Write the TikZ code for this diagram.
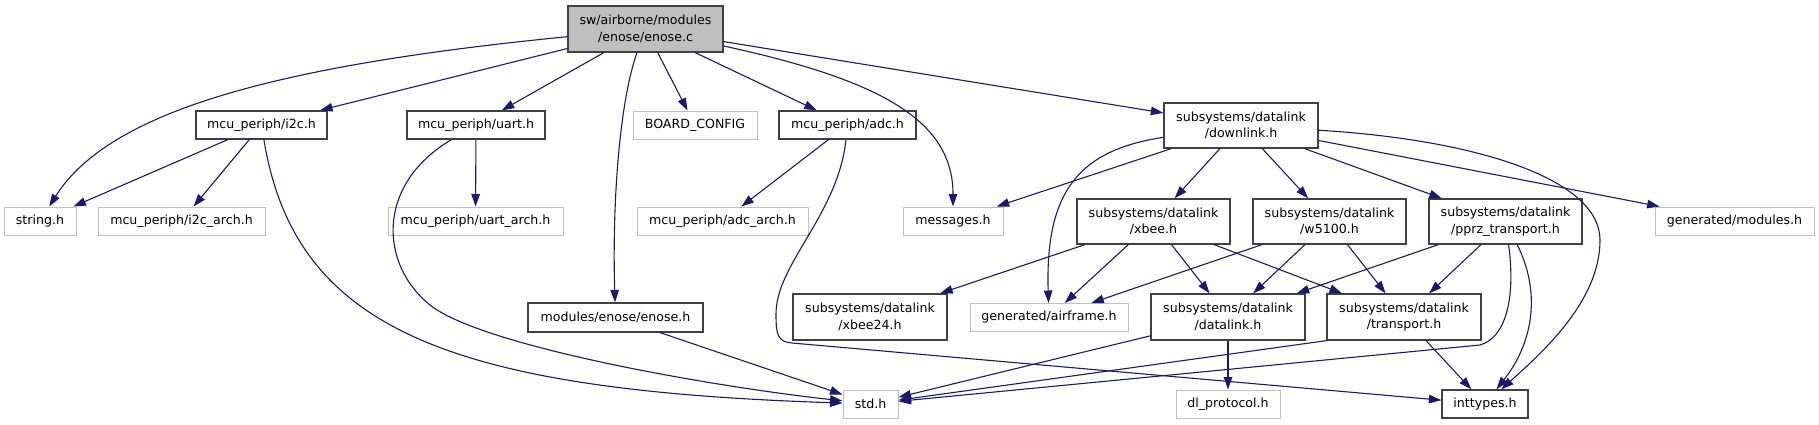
\documentclass[tikz,border=0pt]{standalone}
\usepackage{fontspec}
\newfontfamily\dxfont{DejaVu Sans}
\usetikzlibrary{arrows.meta}
\usepackage{xcolor}
\definecolor{dxnavy}{RGB}{25,25,112}
\definecolor{dxedge}{RGB}{64,64,64}
\definecolor{dxgrey}{RGB}{191,191,191}
\tikzset{
    hfile/.style={
        draw=dxedge,line width=1.3pt,fill=white,inner sep=0pt,
        align=center,minimum height=#1,
        font=\dxfont\fontsize{12.6pt}{16.5pt}\selectfont
    },
    hfile/.default=28pt,
    xfile/.style={
        hfile=28pt,draw=dxgrey,line width=1pt
    },
    srcfile/.style={
        hfile=46pt,fill=dxgrey
    },
    inc/.style={
        -{Triangle[length=12.5pt,width=8.5pt]},line width=1.1pt,color=dxnavy
    }
}

\begin{document}
\begin{tikzpicture}[x=1pt,y=-1pt]
\useasboundingbox (0,0) rectangle (1819,424);

% files
\node[srcfile,minimum width=155pt] (enosec) at (645.5,29) {sw/airborne/modules\\/enose/enose.c};
\node[hfile,minimum width=131pt] (i2c) at (261.5,125) {mcu\_periph/i2c.h};
\node[hfile,minimum width=138pt] (uart) at (476,125) {mcu\_periph/uart.h};
\node[xfile,minimum width=124pt] (board) at (695,125) {BOARD\_CONFIG};
\node[hfile,minimum width=137pt] (adc) at (847.5,125) {mcu\_periph/adc.h};
\node[hfile=45pt,minimum width=154pt] (downlink) at (1241,125.5) {subsystems/datalink\\/downlink.h};
\node[xfile,minimum width=72pt] (string) at (40,221) {string.h};
\node[xfile,minimum width=167pt] (i2carch) at (181.5,221) {mcu\_periph/i2c\_arch.h};
\node[xfile,minimum width=175pt] (uartarch) at (475.5,221) {mcu\_periph/uart\_arch.h};
\node[xfile,minimum width=171pt] (adcarch) at (722.5,221) {mcu\_periph/adc\_arch.h};
\node[xfile,minimum width=100pt] (messages) at (953,221) {messages.h};
\node[hfile=45pt,minimum width=153pt] (xbee) at (1153.5,221.5) {subsystems/datalink\\/xbee.h};
\node[hfile=45pt,minimum width=153pt] (w5100) at (1329.5,221.5) {subsystems/datalink\\/w5100.h};
\node[hfile=45pt,minimum width=153pt] (pprz) at (1505.5,221.5) {subsystems/datalink\\/pprz\_transport.h};
\node[xfile,minimum width=159pt] (modules) at (1734.5,221) {generated/modules.h};
\node[hfile=29pt,minimum width=175pt] (enoseh) at (615.5,317.5) {modules/enose/enose.h};
\node[hfile=46pt,minimum width=154pt] (xbee24) at (870,317) {subsystems/datalink\\/xbee24.h};
\node[xfile,minimum width=158pt] (airframe) at (1049,317.5) {generated/airframe.h};
\node[hfile=46pt,minimum width=154pt] (datalink) at (1228,317) {subsystems/datalink\\/datalink.h};
\node[hfile=46pt,minimum width=154pt] (transport) at (1404,317) {subsystems/datalink\\/transport.h};
\node[xfile,minimum width=55pt] (std) at (870.5,404) {std.h};
\node[xfile,minimum width=104pt] (dlproto) at (1228,404) {dl\_protocol.h};
\node[hfile,minimum width=86pt] (inttypes) at (1485,404) {inttypes.h};

% includes of enose.c
\draw[inc] (enosec) .. controls (280,65) and (110,110) .. (string);
\draw[inc] (enosec) -- (i2c);
\draw[inc] (enosec) -- (uart);
\draw[inc] (enosec) .. controls (620,100) and (612,200) .. (enoseh);
\draw[inc] (enosec) -- (board);
\draw[inc] (enosec) -- (adc);
\draw[inc] (enosec) .. controls (880,80) and (953,120) .. (messages);
\draw[inc] (enosec) -- (downlink);

% mcu_periph
\draw[inc] (i2c) -- (string);
\draw[inc] (i2c) -- (i2carch);
\draw[inc] (i2c) .. controls (295,330) and (450,390) .. (std);
\draw[inc] (uart) -- (uartarch);
\draw[inc] (uart) .. controls (375,185) and (380,265) .. (430,305)
    .. controls (480,345) and (700,385) .. (std);
\draw[inc] (adc) -- (adcarch);
\draw[inc] (adc) .. controls (838,215) and (775,265) .. (776,315)
    .. controls (776,335) and (778,342) .. (792,343) -- (inttypes);
\draw[inc] (enoseh) -- (std);

% downlink
\draw[inc] (downlink) -- (messages);
\draw[inc] (downlink) .. controls (1080,150) and (1045,190) .. (airframe);
\draw[inc] (downlink) -- (xbee);
\draw[inc] (downlink) -- (w5100);
\draw[inc] (downlink) -- (pprz);
\draw[inc] (downlink) -- (modules);
\draw[inc] (downlink) .. controls (1480,140) and (1600,180) .. (1600,240)
    .. controls (1600,300) and (1545,350) .. (inttypes);

% datalink layer
\draw[inc] (xbee) -- (xbee24);
\draw[inc] (xbee) -- (airframe);
\draw[inc] (xbee) -- (datalink);
\draw[inc] (xbee) -- (transport);
\draw[inc] (w5100) -- (airframe);
\draw[inc] (w5100) -- (datalink);
\draw[inc] (w5100) -- (transport);
\draw[inc] (pprz) -- (datalink);
\draw[inc] (pprz) -- (transport);
\draw[inc] (pprz) .. controls (1516,300) and (1505,338) .. (1480,345) -- (std);
\draw[inc] (pprz) .. controls (1540,290) and (1535,340) .. (inttypes);
\draw[inc] (datalink) -- (std);
\draw[inc] (datalink) -- (dlproto);
\draw[inc] (transport.south west) -- (std);
\draw[inc] (transport) -- (inttypes);

\end{tikzpicture}
\end{document}
